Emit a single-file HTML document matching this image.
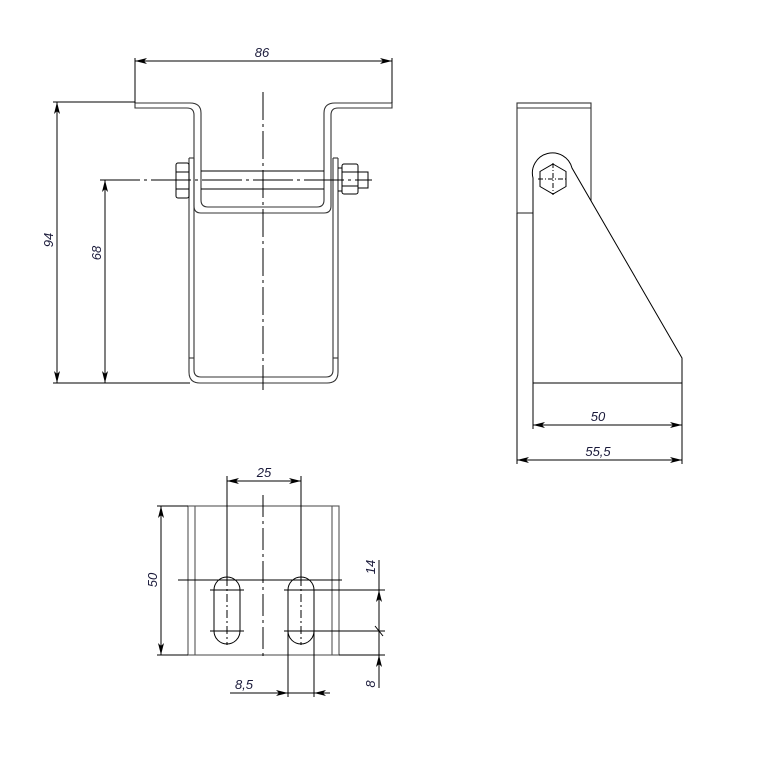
<!DOCTYPE html>
<html><head><meta charset="utf-8"><style>
html,body{margin:0;padding:0;background:#fff;}
svg{display:block;}
text{font-family:"Liberation Sans",sans-serif;font-style:italic;font-size:13px;fill:#1a1a3a;}
</style></head><body>
<svg width="765" height="765" viewBox="0 0 765 765" xmlns="http://www.w3.org/2000/svg">
<defs>
<marker id="a" viewBox="0 0 12 6" refX="12" refY="3" markerWidth="12" markerHeight="6" orient="auto-start-reverse" markerUnits="userSpaceOnUse">
<path d="M0,0 L12,3 L0,6 L3,3 Z" fill="#000"/>
</marker>
</defs>
<g fill="none" stroke="#000" stroke-width="1">
<!-- FRONT VIEW -->
<g stroke="#333" stroke-width="1.1">
<path d="M135,103 H190 Q201,103 201,113 V200 Q201,207 208,207 H317 Q324,207 324,200 V113 Q324,103 335,103 H392 V108 H338 Q331,108 331,115 V206 Q331,213 324,213 H201 Q194,213 194,206 V115 Q194,108 187,108 H135 Z"/>
<path d="M189,158 V372 Q189,383 200,383 H327 Q338,383 338,372 V158"/>
<path d="M194,158 V370 Q194,377 201,377 H326 Q333,377 333,370 V158"/>
<line x1="189" y1="158" x2="194" y2="158"/><line x1="333" y1="158" x2="338" y2="158"/>
<line x1="189" y1="358" x2="194" y2="358"/><line x1="333" y1="358" x2="338" y2="358"/>
</g>
<rect x="176" y="163" width="13" height="35" rx="2"/>
<line x1="176" y1="172" x2="189" y2="172"/><line x1="176" y1="189" x2="189" y2="189"/>
<line x1="201" y1="171" x2="324" y2="171"/><line x1="201" y1="189" x2="324" y2="189"/>
<rect x="342" y="164" width="16" height="30" rx="2"/>
<line x1="342" y1="172" x2="358" y2="172"/><line x1="342" y1="186" x2="358" y2="186"/>
<rect x="358" y="172" width="10" height="16"/>
<line x1="338" y1="168" x2="342" y2="168"/><line x1="338" y1="191" x2="342" y2="191"/>
<line x1="100" y1="180" x2="372" y2="180" stroke-dasharray="40,4,3,4"/>
<line x1="263" y1="92" x2="263" y2="390" stroke-dasharray="28,4,3,4"/>
<!-- dims front -->
<line x1="135" y1="58" x2="135" y2="103"/><line x1="392" y1="58" x2="392" y2="103"/>
<line x1="135" y1="61" x2="392" y2="61" marker-start="url(#a)" marker-end="url(#a)"/>
<line x1="53" y1="102" x2="135" y2="102"/><line x1="53" y1="383" x2="190" y2="383"/>
<line x1="57" y1="102" x2="57" y2="383" marker-start="url(#a)" marker-end="url(#a)"/>
<line x1="105" y1="180" x2="105" y2="383" marker-start="url(#a)" marker-end="url(#a)"/>

<!-- SIDE VIEW -->
<g stroke="#333" stroke-width="1.1">
<rect x="517" y="103" width="74" height="110"/>
<line x1="517" y1="108" x2="591" y2="108"/>
</g>
<path d="M533,213 V178 A20,20 0 0 1 572,168 L682,358 V383 H533 V213" fill="#fff"/>
<polygon points="553,164 566,171.5 566,186.5 553,194 540,186.5 540,171.5"/>
<line x1="538" y1="179" x2="568" y2="179" stroke-dasharray="5,2,1,2"/>
<line x1="553" y1="163" x2="553" y2="195" stroke-dasharray="5,2,1,2"/>
<line x1="517" y1="213" x2="517" y2="464"/>
<line x1="533" y1="383" x2="533" y2="429"/>
<line x1="682" y1="383" x2="682" y2="464"/>
<line x1="533" y1="425" x2="682" y2="425" marker-start="url(#a)" marker-end="url(#a)"/>
<line x1="517" y1="460" x2="682" y2="460" marker-start="url(#a)" marker-end="url(#a)"/>

<!-- PLATE VIEW -->
<g stroke="#555" stroke-width="1.1">
<rect x="188" y="506" width="151" height="149"/>
<line x1="195" y1="506" x2="195" y2="655"/><line x1="332" y1="506" x2="332" y2="655"/>
</g>
<path d="M214,590 A13,13 0 0 1 240,590 V631 A13,13 0 0 1 214,631 Z"/>
<path d="M288,590 A13,13 0 0 1 314,590 V631 A13,13 0 0 1 288,631 Z"/>
<line x1="178" y1="580" x2="342" y2="580"/>
<line x1="263" y1="495" x2="263" y2="660" stroke-dasharray="22,4,3,4"/>
<line x1="227" y1="476" x2="227" y2="578"/>
<line x1="227" y1="578" x2="227" y2="645" stroke-dasharray="8,3,2,3"/>
<line x1="301" y1="476" x2="301" y2="578"/>
<line x1="301" y1="578" x2="301" y2="645" stroke-dasharray="8,3,2,3"/>
<line x1="210" y1="590" x2="244" y2="590"/><line x1="210" y1="631" x2="244" y2="631"/>
<line x1="284" y1="590" x2="385" y2="590"/><line x1="284" y1="631" x2="385" y2="631"/>
<line x1="339" y1="655" x2="385" y2="655"/>
<line x1="227" y1="481" x2="301" y2="481" marker-start="url(#a)" marker-end="url(#a)"/>
<line x1="157" y1="506" x2="188" y2="506"/><line x1="157" y1="655" x2="188" y2="655"/>
<line x1="161" y1="506" x2="161" y2="655" marker-start="url(#a)" marker-end="url(#a)"/>
<line x1="379" y1="560" x2="379" y2="688"/>
<line x1="379" y1="608" x2="379" y2="590" marker-end="url(#a)"/>
<line x1="379" y1="673" x2="379" y2="655" marker-end="url(#a)"/>
<line x1="375" y1="626" x2="383" y2="636"/>
<line x1="288" y1="631" x2="288" y2="697"/><line x1="314" y1="631" x2="314" y2="697"/>
<line x1="230" y1="693" x2="330" y2="693"/>
<line x1="276" y1="693" x2="288" y2="693" marker-end="url(#a)"/>
<line x1="326" y1="693" x2="314" y2="693" marker-end="url(#a)"/>
</g>
<text x="262" y="57" text-anchor="middle">86</text>
<text transform="translate(53,240) rotate(-90)" text-anchor="middle">94</text>
<text transform="translate(101,253) rotate(-90)" text-anchor="middle">68</text>
<text x="598" y="421" text-anchor="middle">50</text>
<text x="598" y="456" text-anchor="middle">55,5</text>
<text x="264" y="477" text-anchor="middle">25</text>
<text transform="translate(157,580) rotate(-90)" text-anchor="middle">50</text>
<text transform="translate(375,567) rotate(-90)" text-anchor="middle">14</text>
<text transform="translate(375,684) rotate(-90)" text-anchor="middle">8</text>
<text x="244" y="689" text-anchor="middle">8,5</text>
</svg>
</body></html>
